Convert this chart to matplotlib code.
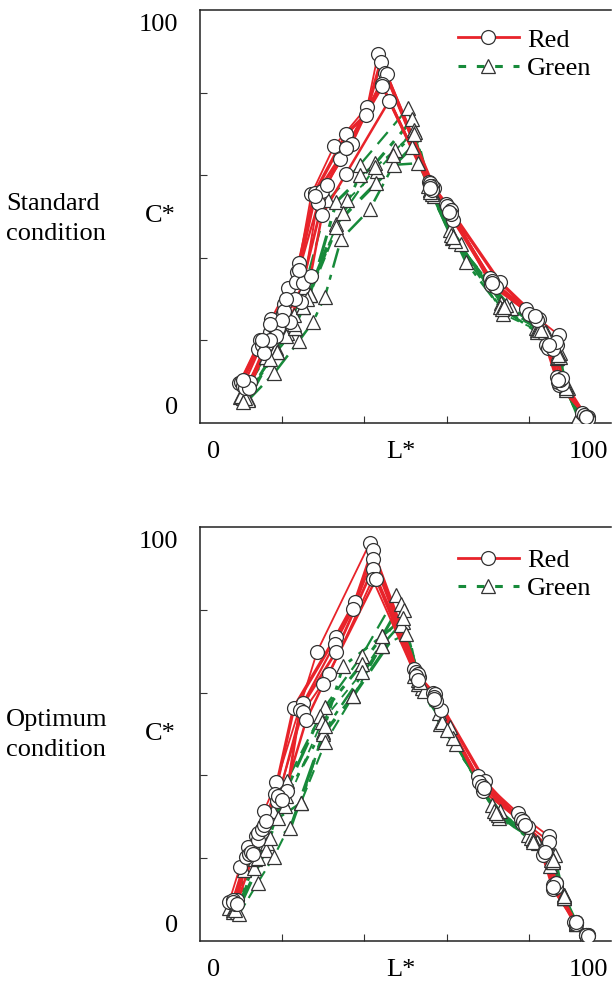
#!/usr/bin/env python3
import matplotlib
matplotlib.use('Agg')
import matplotlib.pyplot as plt
from matplotlib.lines import Line2D

plt.rcParams['font.family'] = ['Liberation Serif', 'DejaVu Serif']

# ---- 标准条件 (Standard condition) ----
std_red_L = [
    [9.5, 14.6, 17.3, 21.3, 24.1, 27.1, 32.6, 40.7, 43.3, 55.7, 59.9, 70.5, 79.4, 87.3, 86.8, 93.0],
    [10.0, 14.0, 17.0, 20.5, 23.6, 27.9, 35.6, 40.3, 44.0, 56.9, 60.6, 72.9, 81.8, 84.2, 87.3, 94.4],
    [10.5, 15.0, 17.8, 20.1, 23.3, 29.6, 36.9, 45.0, 56.0, 60.0, 71.0, 82.4, 84.6, 87.0, 94.0],
    [12.2, 16.0, 19.0, 21.9, 25.0, 30.8, 35.5, 45.4, 56.5, 61.0, 70.9, 81.0, 86.8, 88.0, 94.5],
    [11.0, 15.5, 18.5, 20.5, 24.5, 28.6, 34.0, 44.2, 56.0, 61.6, 71.5, 80.0, 86.0, 87.5, 93.5],
    [12.0, 17.0, 20.0, 23.0, 26.9, 29.7, 35.5, 46.0, 56.5, 61.0, 72.0, 82.0, 86.5, 88.0, 94.0],
    [10.5, 15.0, 17.0, 21.0, 24.0, 28.0, 35.5, 44.4, 56.0, 60.5, 71.0, 81.5, 85.0, 87.0, 94.0],
]
std_red_C = [
    [9.6, 20.1, 25.1, 32.8, 38.7, 55.4, 67.0, 76.6, 89.3, 58.4, 53.0, 35.0, 27.5, 21.3, 11.1, 2.5],
    [10.0, 18.0, 22.1, 28.8, 36.6, 55.8, 70.0, 74.6, 87.5, 57.0, 52.0, 34.2, 25.7, 18.9, 9.2, 1.4],
    [9.0, 19.0, 23.5, 26.6, 34.2, 56.2, 67.5, 84.7, 58.0, 52.5, 34.5, 25.1, 18.1, 10.0, 1.5],
    [10.0, 19.0, 23.0, 24.5, 34.0, 57.6, 66.5, 84.5, 57.5, 51.5, 33.4, 26.0, 19.0, 9.5, 1.0],
    [8.5, 17.0, 21.0, 27.0, 29.4, 53.3, 64.0, 82.2, 57.5, 49.2, 33.5, 26.5, 18.0, 10.5, 2.0],
    [8.5, 20.0, 25.0, 30.0, 35.6, 50.4, 60.3, 78.0, 56.5, 50.5, 33.0, 25.0, 19.5, 11.0, 1.5],
    [10.5, 20.0, 24.0, 30.0, 37.0, 55.0, 66.5, 81.6, 57.0, 51.0, 34.0, 26.0, 19.0, 10.5, 1.5],
]
std_green_L = [
    [9.7, 16.0, 21.1, 25.5, 31.2, 38.9, 50.6, 55.5, 60.8, 73.3, 81.8, 87.6, 89.1, 92.2],
    [11.7, 18.5, 22.8, 26.7, 33.2, 42.7, 51.7, 56.0, 61.4, 75.7, 84.2, 86.8, 89.0, 92.5],
    [10.5, 18.8, 23.1, 25.1, 35.8, 43.1, 52.0, 56.5, 63.6, 73.7, 82.0, 87.0, 89.5, 92.5],
    [11.7, 18.0, 24.1, 27.5, 30.4, 34.3, 41.3, 47.1, 53.0, 57.0, 64.6, 73.0, 82.0, 87.0, 89.0, 92.5],
    [10.0, 16.0, 21.0, 25.1, 33.2, 42.8, 51.7, 56.0, 61.0, 74.5, 82.5, 87.5, 89.0, 92.0],
    [11.0, 18.8, 23.0, 26.7, 34.8, 42.7, 47.5, 52.2, 56.5, 62.0, 73.5, 84.0, 87.0, 89.0, 92.5],
    [10.5, 17.0, 22.8, 26.0, 33.2, 38.9, 47.0, 52.0, 56.0, 61.5, 74.0, 83.0, 87.0, 89.0, 92.0],
]
std_green_C = [
    [6.4, 16.1, 21.9, 33.0, 54.0, 62.5, 76.2, 57.5, 46.7, 29.0, 22.9, 17.0, 8.8, 1.4],
    [5.7, 18.1, 26.2, 31.0, 53.6, 62.9, 73.5, 56.5, 44.7, 27.8, 22.1, 15.7, 8.5, 1.2],
    [6.0, 17.3, 22.9, 28.2, 54.0, 61.0, 70.9, 56.0, 43.3, 26.4, 22.5, 16.5, 8.5, 1.5],
    [5.5, 12.0, 19.9, 24.5, 30.6, 44.5, 51.7, 62.5, 62.9, 55.0, 39.1, 28.0, 22.0, 16.0, 8.5, 1.2],
    [6.5, 16.1, 21.0, 28.2, 48.3, 58.0, 66.9, 56.5, 45.5, 28.5, 22.5, 16.0, 9.0, 1.5],
    [6.0, 17.3, 23.0, 31.0, 50.8, 62.0, 66.1, 70.5, 55.5, 44.0, 27.5, 22.0, 17.0, 8.0, 1.0],
    [5.0, 15.5, 24.0, 30.0, 47.5, 60.0, 65.0, 70.0, 56.0, 45.0, 28.0, 22.5, 16.5, 8.5, 1.5],
]

# ---- 最佳条件 (Optimum condition) ----
opt_red_L = [
    [7.1, 9.7, 13.6, 15.6, 18.6, 28.5, 41.3, 52.0, 56.7, 67.6, 77.4, 84.9, 86.5, 91.5, 94.4],
    [8.9, 11.7, 14.2, 18.2, 22.8, 33.0, 37.7, 42.0, 53.3, 57.1, 69.3, 78.4, 83.4, 86.0, 91.5, 94.0],
    [8.0, 11.3, 14.0, 18.8, 25.1, 32.8, 37.3, 42.1, 52.5, 57.0, 68.9, 79.8, 84.5, 86.5, 91.5, 94.3],
    [8.5, 12.0, 15.0, 21.2, 24.3, 33.0, 42.0, 53.0, 58.7, 68.0, 78.0, 84.0, 86.0, 91.0, 94.0],
    [8.0, 12.5, 15.5, 19.0, 25.0, 31.4, 42.0, 52.5, 57.5, 68.5, 78.5, 85.0, 86.5, 91.5, 94.0],
    [9.0, 13.0, 16.0, 20.0, 25.9, 30.0, 42.8, 53.0, 57.0, 69.0, 79.0, 84.0, 86.0, 91.5, 94.5],
]
opt_red_C = [
    [9.5, 17.8, 25.4, 31.5, 38.3, 69.9, 96.1, 65.6, 59.8, 39.8, 30.9, 25.3, 14.1, 4.4, 1.5],
    [9.8, 22.7, 24.5, 35.6, 56.3, 73.4, 81.9, 94.5, 63.8, 59.6, 38.6, 28.6, 20.8, 12.5, 4.5, 1.5],
    [10.0, 20.3, 26.0, 33.7, 57.5, 71.8, 80.3, 92.3, 65.0, 59.0, 36.2, 27.5, 23.0, 13.0, 4.5, 1.5],
    [9.0, 21.0, 27.0, 36.2, 55.9, 69.7, 89.8, 64.5, 55.9, 38.5, 29.5, 22.0, 13.5, 4.5, 1.5],
    [9.5, 21.5, 28.0, 35.0, 55.3, 64.4, 87.4, 64.0, 58.0, 37.5, 29.0, 24.0, 14.0, 4.0, 1.5],
    [9.0, 21.0, 29.0, 34.0, 53.5, 62.0, 87.4, 63.0, 58.5, 37.0, 28.0, 21.5, 13.0, 4.5, 1.3],
]
opt_green_L = [
    [7.1, 10.7, 15.6, 21.1, 30.4, 39.3, 47.8, 52.0, 58.2, 71.1, 79.8, 86.3, 88.5, 91.4, 94.0],
    [8.9, 13.1, 16.4, 19.9, 29.2, 39.3, 44.4, 48.8, 53.0, 58.5, 72.9, 82.2, 85.2, 88.5, 91.5, 94.0],
    [8.0, 13.4, 17.7, 20.7, 29.6, 39.5, 49.6, 53.5, 60.8, 72.7, 82.0, 86.0, 88.5, 91.5, 94.0],
    [8.0, 13.4, 19.0, 24.5, 30.0, 44.2, 49.3, 54.0, 62.2, 72.0, 81.0, 86.0, 88.5, 91.5, 94.0],
    [9.0, 16.0, 22.0, 30.0, 37.3, 49.0, 53.0, 59.0, 72.5, 80.5, 85.5, 88.5, 91.5, 94.0],
    [9.5, 14.0, 18.0, 24.5, 30.5, 37.3, 44.2, 50.2, 54.5, 61.5, 71.5, 81.0, 86.0, 88.5, 91.5, 94.0],
    [8.5, 14.0, 17.0, 21.0, 30.4, 34.8, 44.4, 49.5, 53.5, 60.0, 72.0, 81.0, 86.0, 88.5, 91.5, 94.0],
]
opt_green_C = [
    [7.9, 17.2, 26.1, 38.6, 56.6, 68.8, 83.5, 64.0, 55.1, 32.9, 25.7, 20.8, 10.9, 4.3, 1.0],
    [7.3, 17.6, 23.7, 34.1, 54.3, 66.8, 73.7, 81.4, 63.0, 52.3, 31.3, 23.7, 18.2, 10.5, 4.0, 1.0],
    [7.5, 19.8, 31.3, 32.5, 52.9, 65.0, 80.0, 62.0, 51.7, 29.7, 24.0, 19.5, 11.0, 4.5, 1.0],
    [7.0, 22.4, 29.7, 33.3, 50.4, 71.3, 77.1, 61.0, 47.5, 31.0, 24.5, 19.0, 10.5, 4.0, 1.0],
    [7.0, 22.0, 27.3, 50.0, 59.2, 76.3, 62.0, 53.0, 30.5, 25.0, 19.5, 11.0, 4.5, 1.0],
    [6.5, 14.0, 20.4, 33.3, 48.0, 59.2, 71.3, 74.1, 60.5, 49.0, 31.5, 24.5, 19.0, 10.5, 4.5, 1.0],
    [7.5, 20.0, 25.0, 35.0, 52.0, 66.4, 73.7, 78.0, 62.5, 51.0, 31.0, 24.0, 19.5, 10.8, 4.3, 1.0],
]

RED = '#e8232a'
GREEN = '#178a3a'
EDGE = '#333333'
FS = 19

# 各条曲线的线宽/线型 (手动调出来的)
red_widths = [1.3, 2.4, 1.6, 2.0, 1.4, 1.8, 2.2]
green_styles = [(0, (7, 4)), (0, (9, 3, 2, 3)), (0, (5, 4)), (0, (8, 3, 2, 3)),
                (0, (10, 4)), (0, (6, 3)), (0, (4, 3, 1.5, 3))]
green_widths = [1.6, 2.2, 1.3, 1.8, 2.4, 1.5, 2.0]


def draw_panel(ax, red_L, red_C, green_L, green_C, legend_top):
    # 先画线, 再画点
    for i, (xs, ys) in enumerate(zip(green_L, green_C)):
        ax.plot(xs, ys, color=GREEN, linestyle=green_styles[i % len(green_styles)],
                linewidth=green_widths[i % len(green_widths)], zorder=2)
    for i, (xs, ys) in enumerate(zip(red_L, red_C)):
        ax.plot(xs, ys, color=RED, linestyle='-',
                linewidth=red_widths[i % len(red_widths)], zorder=3)
    for xs, ys in zip(green_L, green_C):
        ax.plot(xs, ys, linestyle='none', marker='^', markersize=10,
                markerfacecolor='white', markeredgecolor=EDGE, markeredgewidth=0.9, zorder=4)
    for xs, ys in zip(red_L, red_C):
        ax.plot(xs, ys, linestyle='none', marker='o', markersize=10,
                markerfacecolor='white', markeredgecolor=EDGE, markeredgewidth=0.9, zorder=5)

    ax.set_xlim(0, 100)
    ax.set_ylim(0, 100)
    ax.set_xticks([20, 40, 60, 80])
    ax.set_yticks([20, 40, 60, 80])
    ax.tick_params(direction='in', length=5, width=0.8, colors=EDGE,
                   labelbottom=False, labelleft=False)
    ax.spines['right'].set_visible(False)
    for s in ['left', 'bottom', 'top']:
        ax.spines[s].set_linewidth(1.1)
        ax.spines[s].set_color('#222222')

    # 坐标轴文字
    ax.text(-0.053, 0.963, '100', transform=ax.transAxes, fontsize=FS, ha='right', va='center')
    ax.text(-0.053, 0.036, '0', transform=ax.transAxes, fontsize=FS, ha='right', va='center')
    ax.text(-0.060, 0.50, 'C*', transform=ax.transAxes, fontsize=FS, ha='right', va='center')
    ax.text(0.034, -0.070, '0', transform=ax.transAxes, fontsize=FS, ha='center', va='center')
    ax.text(0.490, -0.070, 'L*', transform=ax.transAxes, fontsize=FS, ha='center', va='center')
    ax.text(0.944, -0.070, '100', transform=ax.transAxes, fontsize=FS, ha='center', va='center')

    handles = [
        Line2D([], [], color=RED, linewidth=2, marker='o', markersize=10,
               markerfacecolor='white', markeredgecolor=EDGE, markeredgewidth=0.9),
        Line2D([], [], color=GREEN, linewidth=2.2, linestyle=(0, (2.5, 3.5)), marker='^',
               markersize=10, markerfacecolor='white', markeredgecolor=EDGE,
               markeredgewidth=0.9),
    ]
    ax.legend(handles, ['Red', 'Green'], loc='upper left', bbox_to_anchor=(0.628, legend_top),
              frameon=False, fontsize=FS, handlelength=2.3, handletextpad=0.3,
              labelspacing=0.18, borderpad=0, borderaxespad=0)


fig = plt.figure(figsize=(6.12, 9.83), dpi=100)
ax1 = fig.add_axes([200 / 612, 1 - 423 / 983, 411 / 612, 413 / 983])
ax2 = fig.add_axes([200 / 612, 1 - 941 / 983, 411 / 612, 414 / 983])

draw_panel(ax1, std_red_L, std_red_C, std_green_L, std_green_C, 0.956)
draw_panel(ax2, opt_red_L, opt_red_C, opt_green_L, opt_green_C, 0.948)

ax1.text(-0.472, 0.494, 'Standard\ncondition', transform=ax1.transAxes, fontsize=FS,
         ha='left', va='center', linespacing=1.45)
ax2.text(-0.472, 0.498, 'Optimum\ncondition', transform=ax2.transAxes, fontsize=FS,
         ha='left', va='center', linespacing=1.45)

fig.savefig('out.png', dpi=100)
plt.close(fig)
